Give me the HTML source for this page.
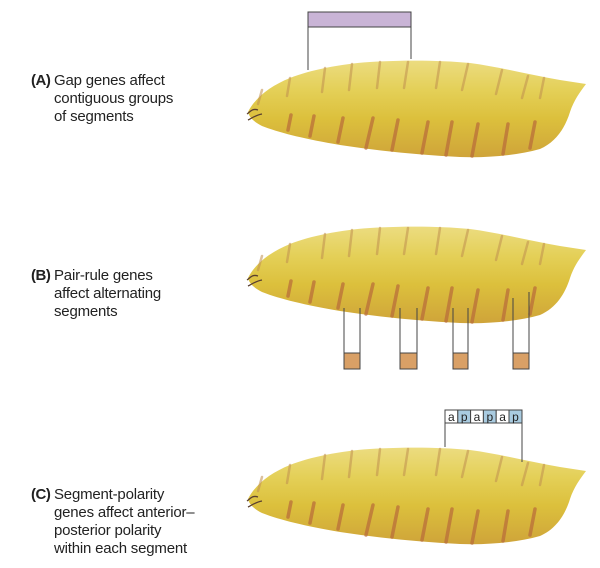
<!DOCTYPE html>
<html><head><meta charset="utf-8"><style>
body{margin:0;background:#fff;width:600px;height:568px;overflow:hidden;position:relative;font-family:"Liberation Sans",sans-serif;}
.t{position:absolute;left:31px;font-size:15px;line-height:18px;color:#222;letter-spacing:-0.2px;}
.t b{display:inline-block;width:23px;font-weight:bold;letter-spacing:-0.5px;}
.t span{display:block;padding-left:23px;}
</style></head><body>
<svg width="600" height="568" style="position:absolute;left:0;top:0">
<defs>
<linearGradient id="g" x1="0" y1="0" x2="0" y2="1">
<stop offset="0" stop-color="#ecdc80"/><stop offset="0.3" stop-color="#e4d058"/><stop offset="0.6" stop-color="#dcc03c"/><stop offset="1" stop-color="#cfa43a"/></linearGradient>
<g id="larva">
<path d="M248,112 C255,98 270,86 290,78 C310,70 340,64 370,62 C400,60 440,60 470,63 C500,67 530,75 560,80 L586,84 C580,92 574,100 570,112 C565,128 556,142 540,149 C515,156 485,158 460,157 C420,155 380,151 340,145 C305,139 280,133 262,126 C254,122 249,117 248,112 Z" fill="url(#g)"/>
<g stroke="#c09050" stroke-width="2.5" stroke-linecap="round" opacity="0.55">
<line x1="262" y1="90" x2="258" y2="104"/><line x1="290" y1="78" x2="287" y2="96"/><line x1="325" y1="68" x2="322" y2="92"/><line x1="352" y1="64" x2="349" y2="90"/><line x1="380" y1="62" x2="377" y2="88"/><line x1="408" y1="62" x2="404" y2="88"/><line x1="440" y1="62" x2="436" y2="88"/><line x1="468" y1="64" x2="462" y2="90"/><line x1="502" y1="70" x2="496" y2="94"/><line x1="528" y1="76" x2="522" y2="98"/><line x1="544" y1="78" x2="540" y2="98"/>
</g>
<g stroke="#b86a3a" stroke-width="3.5" stroke-linecap="round" opacity="0.7">
<line x1="291" y1="115" x2="288" y2="130"/><line x1="314" y1="116" x2="310" y2="136"/><line x1="343" y1="118" x2="338" y2="142"/><line x1="373" y1="118" x2="366" y2="148"/><line x1="398" y1="120" x2="392" y2="150"/><line x1="428" y1="122" x2="422" y2="153"/><line x1="452" y1="122" x2="446" y2="155"/><line x1="478" y1="124" x2="472" y2="156"/><line x1="508" y1="124" x2="503" y2="154"/><line x1="535" y1="122" x2="530" y2="148"/>
</g>
<path d="M258,110 C252,108 250,112 247,114 M262,114 C256,115 252,118 248,120" stroke="#5a4030" stroke-width="1.3" fill="none"/>
</g>
</defs>
<use href="#larva"/>
<rect x="308" y="12" width="103" height="15" fill="#c9b4d6" stroke="#444" stroke-width="1"/>
<path d="M308,27 V70 M411,27 V59" stroke="#444" stroke-width="1" fill="none"/>
<use href="#larva" transform="translate(0,166)"/>
<g stroke="#444" stroke-width="1" fill="none">
<path d="M344,308 V369 H360 V308"/><path d="M400,308 V369 H417 V308"/><path d="M453,308 V369 H468 V308"/><path d="M513,298 V369 H529 V292"/>
</g>
<g fill="#d9a066" stroke="#444" stroke-width="1">
<rect x="344" y="353" width="16" height="16"/><rect x="400" y="353" width="17" height="16"/><rect x="453" y="353" width="15" height="16"/><rect x="513" y="353" width="16" height="16"/>
</g>
<use href="#larva" transform="translate(0,387)"/>
<g stroke="#444" stroke-width="1">
<rect x="445" y="410" width="12.8" height="13" fill="#fff"/><rect x="457.8" y="410" width="12.8" height="13" fill="#a9cbe0"/>
<rect x="470.6" y="410" width="12.8" height="13" fill="#fff"/><rect x="483.4" y="410" width="12.8" height="13" fill="#a9cbe0"/>
<rect x="496.2" y="410" width="12.8" height="13" fill="#fff"/><rect x="509" y="410" width="13" height="13" fill="#a9cbe0"/>
<path d="M445,423 V447 M522,423 V462" fill="none"/>
</g>
<g font-family="Liberation Sans, sans-serif" font-size="12" fill="#222" text-anchor="middle">
<text x="451.4" y="421">a</text><text x="464.2" y="421">p</text><text x="477" y="421">a</text><text x="489.8" y="421">p</text><text x="502.6" y="421">a</text><text x="515.5" y="421">p</text>
</g>
</svg>
<div class="t" style="top:72px"><b>(A)</b>Gap genes affect<span>contiguous groups</span><span>of segments</span></div>
<div class="t" style="top:267px"><b>(B)</b>Pair-rule genes<span>affect alternating</span><span>segments</span></div>
<div class="t" style="top:486px"><b>(C)</b>Segment-polarity<span>genes affect anterior–</span><span>posterior polarity</span><span>within each segment</span></div>
</body></html>
